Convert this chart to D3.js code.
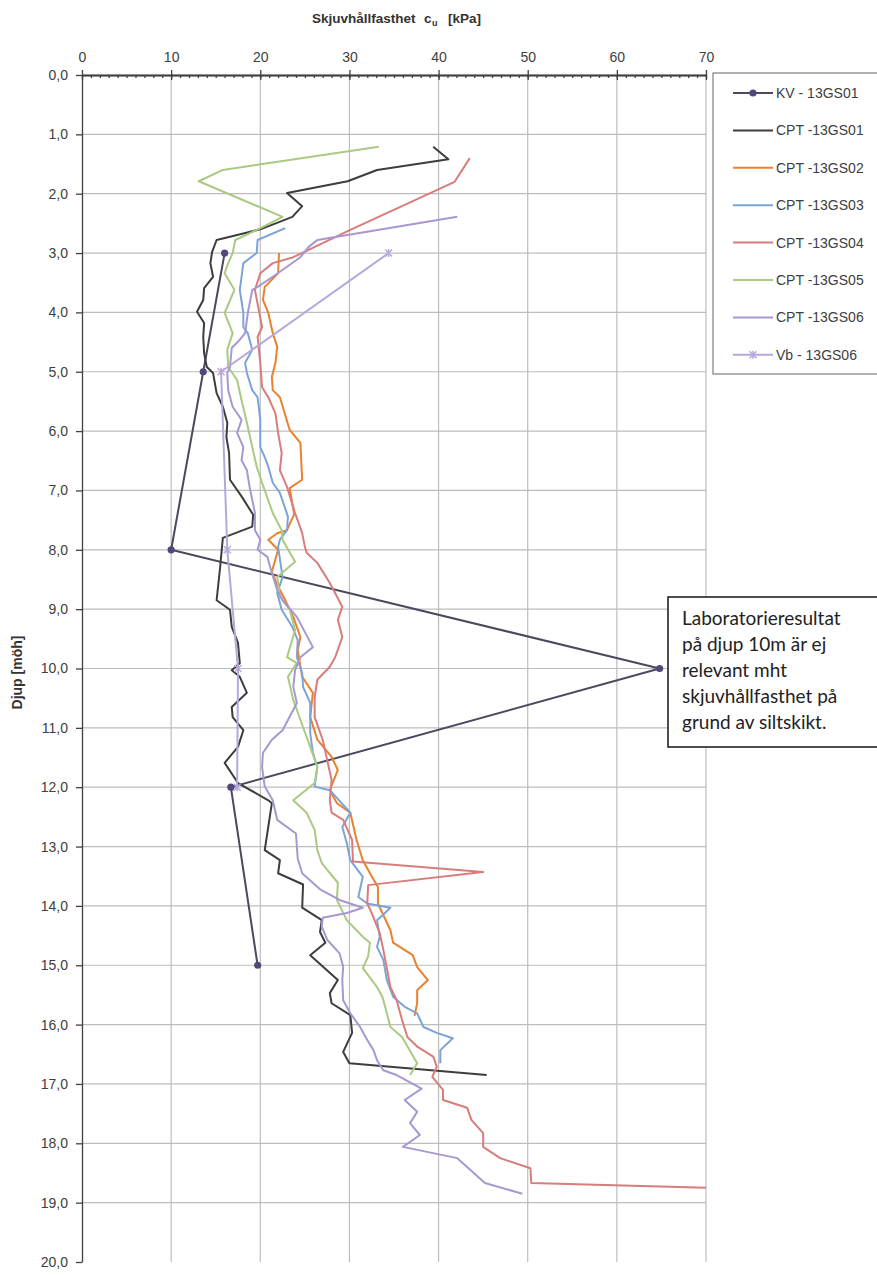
<!DOCTYPE html>
<html>
<head>
<meta charset="utf-8">
<script src="https://cdn.jsdelivr.net/npm/d3@7"></script>
<style>
  body { margin: 0; background: #fff; }
  svg { display: block; font-family: "Liberation Sans", Arial, sans-serif; }
</style>
</head>
<body>
<svg id="chart" width="877" height="1275"></svg>
<script>
// ---- data: [depth (m), cu (kPa)] ----
var kv01 = [[3.0,16.0],[5.0,13.6],[8.0,10.0],[10.0,64.8],[12.0,16.7],[15.0,19.7]];

var cpt01 = [[1.21,39.4],[1.42,41.1],[1.6,33.1],[1.79,29.8],[1.99,23.0],[2.21,24.7],[2.39,23.6],[2.6,20.0],
  [2.67,18.1],[2.78,15.1],[2.98,14.6],[3.17,14.4],[3.4,14.7],[3.59,13.7],[3.79,13.6],[3.99,12.9],[4.18,13.7],
  [4.41,13.6],[4.69,13.7],[4.92,14.0],[5.02,14.7],[5.36,15.1],[5.59,15.8],[5.86,16.3],[6.1,16.2],[6.37,16.5],
  [6.82,16.6],[7.1,17.9],[7.41,19.2],[7.61,19.1],[7.8,15.8],[8.29,15.5],[8.85,15.1],[9.01,16.6],[9.3,16.8],
  [9.57,17.5],[9.91,17.7],[10.03,16.8],[10.14,17.7],[10.41,18.5],[10.65,16.8],[10.82,16.9],[11.04,18.1],
  [11.32,17.5],[11.59,16.0],[11.93,17.5],[12.22,20.9],[12.27,21.3],[13.06,20.5],[13.23,22.2],[13.45,22.0],
  [13.64,24.8],[14.03,24.7],[14.24,26.9],[14.44,26.7],[14.62,27.3],[14.83,25.6],[15.25,28.7],[15.47,27.8],
  [15.64,28.0],[15.84,30.1],[16.14,30.3],[16.46,29.3],[16.65,30.0],[16.85,45.4]];

var cpt02 = [[3.0,22.1],[3.34,22.0],[3.57,20.5],[3.79,20.3],[4.01,20.9],[4.35,21.4],[4.58,21.9],[4.85,21.7],
  [5.09,21.3],[5.31,21.4],[5.43,22.2],[5.98,23.3],[6.2,24.5],[6.82,24.7],[6.96,23.3],[7.4,23.8],[7.67,23.0],
  [7.72,21.9],[7.83,20.9],[8.0,22.0],[8.37,21.3],[8.59,21.9],[8.85,22.8],[9.13,23.7],[9.47,24.5],[9.69,24.2],
  [10.14,24.7],[10.41,25.9],[10.82,25.6],[11.2,26.4],[11.49,28.0],[11.71,28.7],[12.05,27.8],[12.27,28.6],
  [12.43,30.1],[12.89,30.8],[13.23,31.5],[13.45,32.3],[13.68,33.2],[13.96,33.2],[14.41,34.6],[14.62,34.9],
  [14.83,37.1],[15.03,37.6],[15.25,38.8],[15.42,37.6],[15.64,37.6],[15.85,37.3]];

var cpt03 = [[2.58,22.8],[2.78,19.7],[3.0,19.6],[3.17,18.1],[3.4,17.9],[3.62,17.7],[4.01,18.1],[4.25,18.1],
  [4.35,18.6],[4.63,19.1],[4.85,18.3],[5.02,18.5],[5.31,19.1],[5.43,19.7],[5.81,20.0],[6.27,20.0],[6.44,20.5],
  [6.6,20.9],[6.87,21.4],[7.04,22.2],[7.44,23.1],[7.67,23.0],[7.83,22.2],[7.95,22.0],[8.46,22.5],[8.73,21.9],
  [9.01,22.4],[9.3,23.6],[9.52,24.2],[9.81,24.1],[10.08,24.7],[10.31,24.8],[10.58,25.6],[11.09,25.6],
  [11.42,25.9],[11.66,26.4],[11.99,26.1],[12.05,27.8],[12.43,30.1],[12.67,29.2],[12.94,29.7],[13.23,30.1],
  [13.51,31.5],[13.85,31.0],[13.96,32.0],[14.03,34.6],[14.24,33.1],[14.52,33.4],[14.69,33.1],[14.91,33.8],
  [15.25,34.2],[15.53,34.9],[15.7,36.2],[15.81,37.6],[16.04,38.3],[16.14,39.8],[16.23,41.6],[16.43,40.2],
  [16.65,40.2]];

var cpt04 = [[1.4,43.5],[1.8,41.8],[2.61,30.1],[3.07,23.7],[3.17,21.4],[3.34,20.0],[3.62,19.4],[4.25,20.2],
  [4.41,19.7],[4.85,20.0],[5.26,20.2],[5.43,20.9],[5.7,21.7],[6.03,22.0],[6.37,22.4],[6.66,22.2],[6.94,23.0],
  [7.38,23.9],[7.72,24.7],[7.95,25.0],[8.05,25.2],[8.22,26.4],[8.56,27.8],[8.96,29.2],[9.18,28.7],[9.47,29.2],
  [9.81,28.4],[9.97,27.8],[10.19,26.4],[10.48,26.1],[10.82,26.1],[11.2,27.0],[11.54,27.5],[11.88,28.0],
  [12.22,27.8],[12.43,28.0],[12.55,29.3],[12.89,30.3],[13.25,30.4],[13.43,45.0],[13.65,32.1],[13.96,32.0],
  [14.12,32.5],[14.46,33.4],[14.74,33.8],[15.13,34.3],[15.37,34.6],[15.59,35.3],[15.92,35.9],[16.21,36.5],
  [16.37,37.6],[16.54,39.4],[16.71,39.8],[16.88,39.3],[17.1,40.5],[17.27,40.5],[17.4,43.2],[17.61,43.7],
  [17.83,45.0],[18.06,45.0],[18.25,46.9],[18.42,50.3],[18.67,50.4],[18.75,70.0]];

var cpt05 = [[1.21,33.3],[1.6,15.8],[1.79,13.1],[2.39,22.5],[2.64,19.2],[2.78,17.2],[3.0,16.9],[3.17,16.4],
  [3.34,16.0],[3.62,17.1],[4.01,16.0],[4.35,16.9],[4.63,16.3],[4.92,16.4],[5.14,17.4],[5.48,17.9],[5.86,18.5],
  [6.27,19.1],[6.6,19.6],[6.87,20.2],[7.38,21.4],[7.67,22.4],[7.83,22.5],[8.2,23.9],[8.46,21.9],[8.79,22.2],
  [9.01,23.3],[9.35,23.9],[9.81,23.0],[9.91,24.1],[10.14,23.1],[10.53,23.7],[10.99,24.8],[11.32,25.6],
  [11.66,26.4],[11.93,26.1],[12.22,23.7],[12.43,25.2],[12.72,26.1],[13.06,26.4],[13.28,26.9],[13.61,28.7],
  [13.9,28.6],[14.24,29.7],[14.52,31.5],[14.62,32.3],[14.85,32.1],[15.05,31.5],[15.37,33.1],[15.53,33.7],
  [15.81,34.2],[16.04,34.6],[16.21,35.9],[16.65,37.6],[16.85,36.8]];

var cpt06 = [[2.39,42.1],[2.78,26.4],[2.9,25.4],[3.07,24.5],[3.4,21.4],[3.57,19.7],[3.62,19.1],[4.01,18.6],
  [4.35,18.3],[4.46,17.7],[4.6,16.8],[4.92,16.6],[5.02,16.3],[5.31,16.4],[5.59,16.9],[5.81,17.9],[6.03,17.4],
  [6.27,18.1],[6.49,17.9],[6.66,18.5],[6.94,18.8],[7.38,19.4],[7.67,19.4],[7.83,20.0],[8.0,19.7],[8.12,20.8],
  [8.39,21.3],[8.68,21.9],[8.85,22.5],[9.13,24.1],[9.64,25.9],[9.81,24.5],[10.03,23.9],[10.31,23.7],
  [10.58,24.1],[11.04,22.5],[11.2,21.3],[11.42,20.3],[11.66,20.2],[11.99,20.5],[12.22,21.4],[12.55,21.9],
  [12.78,24.0],[13.2,24.2],[13.45,24.7],[13.72,26.7],[13.9,28.9],[14.03,31.5],[14.12,29.7],[14.2,27.0],
  [14.35,26.9],[14.57,27.5],[14.8,28.9],[15.03,29.3],[15.25,29.2],[15.59,29.3],[15.81,30.1],[16.04,31.2],
  [16.26,32.0],[16.43,32.7],[16.6,33.1],[16.77,33.8],[16.85,35.3],[17.08,38.1],[17.27,36.2],[17.47,37.6],
  [17.66,36.8],[17.86,37.9],[18.06,36.0],[18.25,42.1],[18.67,45.2],[18.85,49.4]];

var vb06 = [[3.0,34.4],[5.0,15.6],[8.0,16.3],[10.0,17.5],[12.0,17.4]];

var seriesNames = ["KV - 13GS01", "CPT -13GS01", "CPT -13GS02", "CPT -13GS03",
                   "CPT -13GS04", "CPT -13GS05", "CPT -13GS06", "Vb - 13GS06"];
var seriesColors = ["#4a4a5c", "#3d3d3d", "#e9812e", "#7ba4d8", "#d97c7c", "#a9ca80", "#a797d2", "#b6a8dc"];
var seriesData = [kv01, cpt01, cpt02, cpt03, cpt04, cpt05, cpt06, vb06];

var xTicks = [0, 10, 20, 30, 40, 50, 60, 70];
var yTicks = d3.range(0, 21);

var noteLines = ["Laboratorieresultat", "på djup 10m är ej", "relevant mht",
                 "skjuvhållfasthet på", "grund av siltskikt."];

// ---- layout ----
var svg = d3.select("#chart");
var pL = 82, pR = 706, pT = 75, pB = 1262;

var x = d3.scaleLinear().domain([0, 70]).range([pL, pR]);
var y = d3.scaleLinear().domain([0, 20]).range([pT, pB]);

svg.append("defs").append("clipPath").attr("id", "plotclip")
  .append("rect").attr("x", pL).attr("y", pT).attr("width", pR - pL).attr("height", pB - pT);

// grid
var grid = svg.append("g");
grid.selectAll("line.v").data(xTicks.slice(1)).enter().append("line")
  .attr("x1", d => x(d)).attr("x2", d => x(d)).attr("y1", pT).attr("y2", pB)
  .attr("stroke", "#bdbdbd").attr("stroke-width", 1.2);
grid.selectAll("line.h").data(yTicks.slice(1, -1)).enter().append("line")
  .attr("x1", pL).attr("x2", pR).attr("y1", d => y(d)).attr("y2", d => y(d))
  .attr("stroke", "#bdbdbd").attr("stroke-width", 1.2);

// top axis: labels + outward major ticks
svg.append("g").attr("transform", "translate(0," + pT + ")")
  .call(d3.axisTop(x).tickValues(xTicks).tickSize(5).tickPadding(8).tickSizeOuter(0));
// inward ticks
svg.append("g").attr("transform", "translate(0," + pT + ")")
  .call(d3.axisBottom(x).ticks(70).tickSize(3).tickFormat("").tickSizeOuter(0));
svg.append("g").attr("transform", "translate(0," + pT + ")")
  .call(d3.axisBottom(x).tickValues(xTicks).tickSize(5).tickFormat("").tickSizeOuter(0));

// left axis
svg.append("g").attr("transform", "translate(" + pL + ",0)")
  .call(d3.axisLeft(y).tickValues(yTicks).tickSize(6).tickPadding(8).tickSizeOuter(0)
    .tickFormat(d => d3.format(".1f")(d).replace(".", ",")));

svg.selectAll(".domain, .tick line").attr("stroke", "#404040").attr("stroke-width", 1.3);
svg.selectAll(".tick text").attr("fill", "#404040").style("font-size", "14px");

// titles
var title = svg.append("g").attr("font-weight", "bold").attr("fill", "#333").style("font-size", "13.5px");
title.append("text").attr("x", 312).attr("y", 23).text("Skjuvhållfasthet");
title.append("text").attr("x", 424).attr("y", 23).text("c");
title.append("text").attr("x", 432).attr("y", 26).style("font-size", "9px").text("u");
title.append("text").attr("x", 448).attr("y", 23).text("[kPa]");

svg.append("text")
  .attr("transform", "translate(22," + ((pT + pB) / 2 + 4) + ") rotate(-90)")
  .attr("text-anchor", "middle").attr("font-weight", "bold").attr("fill", "#333")
  .style("font-size", "14px").text("Djup [möh]");

// series
var line = d3.line().x(d => x(d[1])).y(d => y(d[0]));
var plot = svg.append("g").attr("clip-path", "url(#plotclip)");

plot.selectAll("path.series").data(seriesData).enter().append("path")
  .attr("d", line).attr("fill", "none")
  .attr("stroke", (d, i) => seriesColors[i]).attr("stroke-width", 2)
  .attr("stroke-linejoin", "round");

var kvColor = "#52467a";
plot.selectAll("circle.kv").data(kv01).enter().append("circle")
  .attr("cx", d => x(d[1])).attr("cy", d => y(d[0])).attr("r", 3.6).attr("fill", kvColor);

var star = "M-3.5,-3.5L3.5,3.5M-3.5,3.5L3.5,-3.5M0,-4V4";
plot.selectAll("path.vb").data(vb06).enter().append("path")
  .attr("transform", d => "translate(" + x(d[1]) + "," + y(d[0]) + ")")
  .attr("d", star).attr("stroke", "#b6a8dc").attr("stroke-width", 1.5).attr("fill", "none");

// legend
var lg = svg.append("g");
lg.append("rect").attr("x", 713).attr("y", 73).attr("width", 200).attr("height", 301)
  .attr("fill", "#fff").attr("stroke", "#7f7f7f").attr("stroke-width", 1.2);
var items = lg.selectAll("g.item").data(seriesNames).enter().append("g")
  .attr("transform", (d, i) => "translate(0," + (93 + i * 37.4) + ")");
items.append("line").attr("x1", 733).attr("x2", 773).attr("y1", 0).attr("y2", 0)
  .attr("stroke", (d, i) => seriesColors[i]).attr("stroke-width", 2);
items.filter((d, i) => i === 0).append("circle").attr("cx", 753).attr("cy", 0).attr("r", 3.6).attr("fill", kvColor);
items.filter((d, i) => i === 7).append("path").attr("transform", "translate(753,0)")
  .attr("d", star).attr("stroke", "#b6a8dc").attr("stroke-width", 1.5);
items.append("text").attr("x", 776).attr("y", 5).attr("fill", "#404040")
  .style("font-size", "14px").text(d => d);

// note box
var note = svg.append("g");
note.append("rect").attr("x", 668).attr("y", 597).attr("width", 230).attr("height", 150)
  .attr("fill", "#fff").attr("stroke", "#222").attr("stroke-width", 1.6);
note.selectAll("text").data(noteLines).enter().append("text")
  .attr("x", 682).attr("y", (d, i) => 625 + i * 26)
  .attr("fill", "#222").style("font-family", "Lato, 'Open Sans', sans-serif").style("font-size", "19px")
  .text(d => d);
</script>
</body>
</html>
